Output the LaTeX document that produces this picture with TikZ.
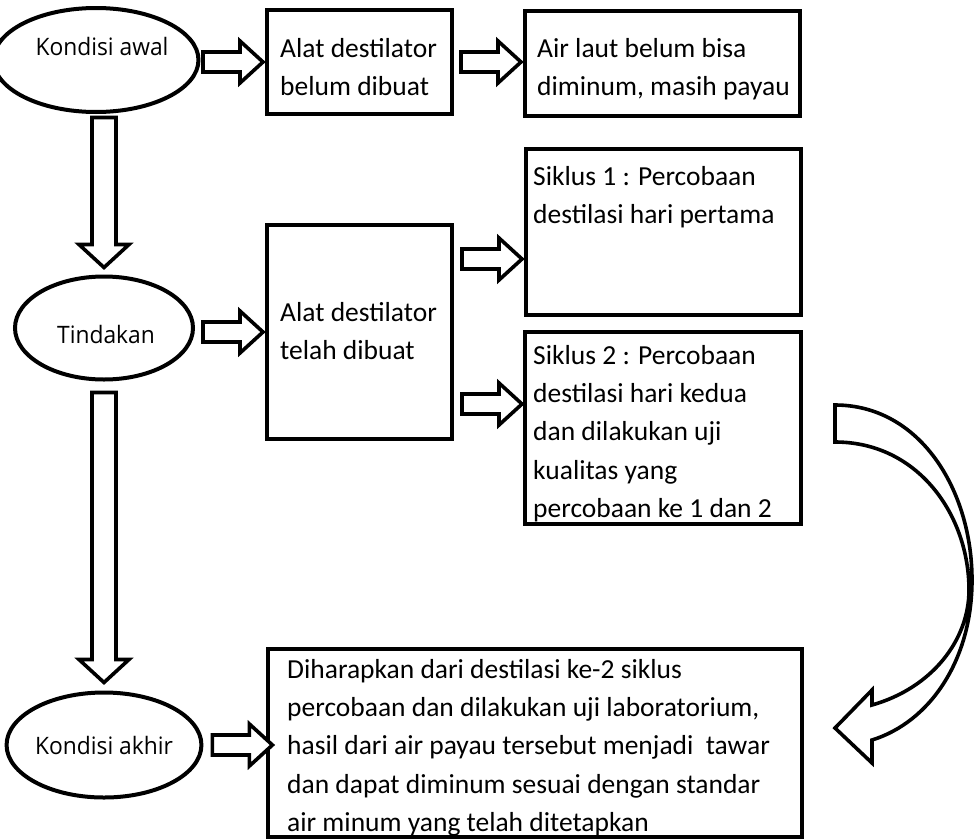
\documentclass[tikz,border=0pt]{standalone}
\usepackage{fontspec}
\setmainfont{Carlito}
\newfontfamily\ellfont{Open Sans}[FakeStretch=0.95]
\usetikzlibrary{shapes.geometric,calc}
\begin{document}
\begin{tikzpicture}[x=1pt,y=-1pt,
  box/.style={draw,line width=4pt,rectangle,inner sep=0pt,anchor=north west},
  ell/.style={draw,line width=4pt,ellipse,inner sep=0pt,font=\ellfont\fontsize{24}{28}\selectfont},
  txt/.style={anchor=north west,inner sep=0pt,align=left,font=\fontsize{27.5}{38.3}\selectfont},
  barrow/.style={draw,line width=3.6pt,line join=miter,fill=white},
  pics/rarr/.style={code={\path[barrow] (0,-10)--(37,-10)--(37,-21)--(60,0)--(37,21)--(37,10)--(0,10)--cycle;}},
  pics/darr/.style={code={\path[barrow] (-12,0)--(-12,#1-23)--(-25,#1-23)--(0,#1)--(25,#1-23)--(12,#1-23)--(12,0)--cycle;}}
]
\useasboundingbox (0,0) rectangle (976,838);

% ellipses
\node[ell,minimum width=162,minimum height=104] (e1) at (96,60) {\raisebox{14pt}[\height][\depth]{\hspace*{12pt}Kondisi awal}};
\node[ell,minimum width=178,minimum height=103] (e2) at (104,328) {\raisebox{-6pt}[\height][\depth]{\hspace*{4pt}Tindakan}};
\node[ell,minimum width=178,minimum height=105] (e3) at (104,745) {Kondisi akhir};

% boxes
\node[box,minimum width=185,minimum height=104] (b1) at (265,8) {};
\node[box,minimum width=275,minimum height=105] (b2) at (523,9) {};
\node[box,minimum width=185,minimum height=214] (b3) at (265,223) {};
\node[box,minimum width=275,minimum height=166] (s1) at (524,147) {};
\node[box,minimum width=276,minimum height=192] (s2) at (523,330) {};
\node[box,minimum width=534,minimum height=188] (b4) at (266,647) {};

% texts
\node[txt] (t1) at (280,38) {Alat destilator\\belum dibuat};
\node[txt] (t2) at (537,38) {Air laut belum bisa\\diminum, masih payau};
\node[txt] (t3) at (280,302) {Alat destilator\\telah dibuat};
\node[txt] (t4) at (533,166) {Siklus 1 : Percobaan\\destilasi hari pertama};
\node[txt] (t5) at (533,345) {Siklus 2 : Percobaan\\destilasi hari kedua\\dan dilakukan uji\\kualitas yang\\percobaan ke 1 dan 2};
\node[txt] (t6) at (287,659) {Diharapkan dari destilasi ke-2 siklus\\percobaan dan dilakukan uji laboratorium,\\hasil dari air payau tersebut menjadi~ tawar\\dan dapat diminum sesuai dengan standar\\air minum yang telah ditetapkan};

% block arrows
\pic at ($(b1.west)+(-62,0)$) {rarr};
\pic at ($(b1.east)+(7,0)$) {rarr};
\pic at ($(b3.west)+(-62,0)$) {rarr};
\pic at ($(b3.east)+(8,-73)$) {rarr};
\pic at ($(b3.east)+(8,72)$) {rarr};
\pic at ($(e3.east)+(9,0)$) {rarr};
\pic at ($(e2.north)+(0,-157)$) {darr=150};
\pic at ($(e3.north)+(0,-298)$) {darr=290};

% curved arrow
\path[barrow] (835,405) .. controls (920,405) and (972,490) .. (972,580)
  .. controls (972,660) and (930,722) .. (872,740) -- (872,763) -- (835,728) -- (872,690) -- (872,705)
  .. controls (932,688) and (969,640) .. (969,590)
  .. controls (969,515) and (918,442) .. (835,442) -- cycle;
\end{tikzpicture}
\end{document}
